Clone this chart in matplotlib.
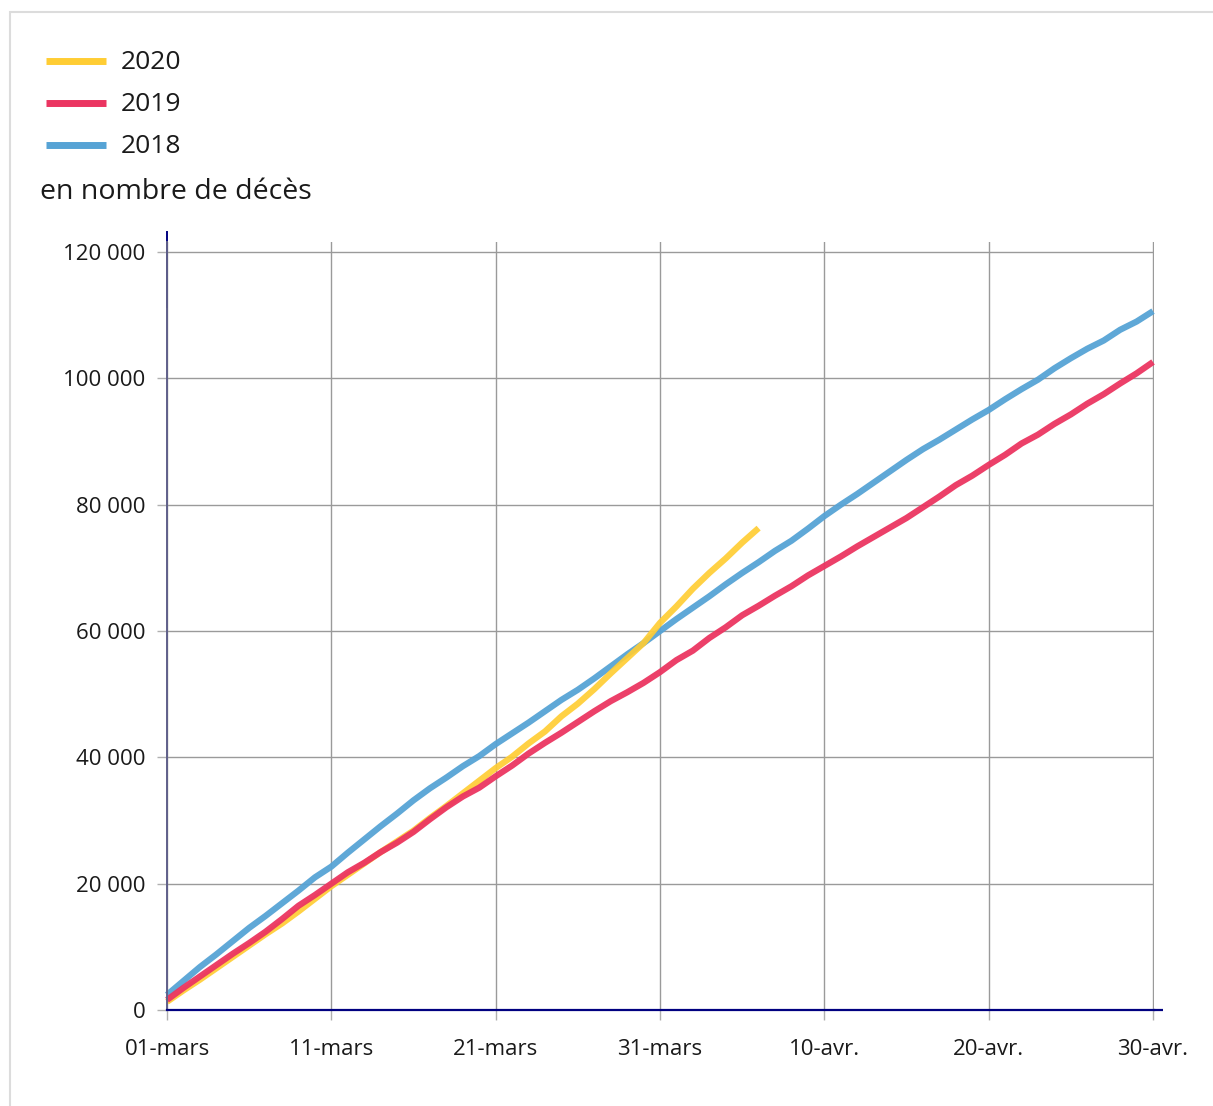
import matplotlib.pyplot as plt
from matplotlib.lines import Line2D
from matplotlib.patches import Rectangle
from matplotlib.ticker import FuncFormatter, MultipleLocator

plt.rcParams['font.family'] = ['Open Sans', 'DejaVu Sans']

# cumulative deaths since 1 March (day 0 = 01-mars, day 60 = 30-avr.)
deaths_2018 = [2400, 4600, 6800, 8800, 10900, 13000, 14900, 16900, 18900, 21000,
               22700, 24900, 27000, 29100, 31100, 33200, 35100, 36800, 38600, 40200,
               42100, 43800, 45500, 47300, 49100, 50700, 52500, 54400, 56300, 58100,
               60000, 61900, 63700, 65500, 67400, 69200, 70900, 72700, 74300, 76200,
               78200, 80000, 81700, 83500, 85300, 87100, 88800, 90300, 91900, 93500,
               95000, 96700, 98300, 99800, 101600, 103200, 104700, 106000, 107700, 109000,
               110650]
deaths_2019 = [1600, 3500, 5300, 7100, 8900, 10600, 12400, 14400, 16500, 18200,
               20000, 21800, 23300, 25000, 26500, 28200, 30200, 32100, 33800, 35200,
               37000, 38700, 40600, 42300, 43900, 45600, 47300, 48900, 50300, 51800,
               53500, 55400, 56900, 58900, 60600, 62500, 64000, 65600, 67100, 68800,
               70300, 71800, 73400, 74900, 76400, 77900, 79600, 81300, 83100, 84600,
               86300, 87900, 89700, 91100, 92800, 94300, 96000, 97500, 99200, 100800,
               102600]
deaths_2020 = [1300, 3100, 4800, 6600, 8400, 10200, 12000, 13700, 15600, 17600,
               19600, 21400, 23200, 25000, 26700, 28400, 30400, 32300, 34300, 36300,
               38300, 40100, 42200, 44100, 46500, 48500, 50800, 53300, 55700, 58100,
               61300, 63900, 66700, 69200, 71500, 74000, 76300]

tick_days = [0, 10, 20, 30, 40, 50, 60]
tick_labels = ['01-mars', '11-mars', '21-mars', '31-mars', '10-avr.', '20-avr.', '30-avr.']

c2020 = '#ffcd34'
c2019 = '#eb3561'
c2018 = '#56a3d5'

fig = plt.figure(figsize=(12.13, 11.06), dpi=100)
fig.add_artist(Rectangle((10 / 1213, -0.1), 1.2, 1 - 12 / 1106 + 0.1,
                         transform=fig.transFigure, fill=False,
                         edgecolor='#dcdcdc', linewidth=1.5))

ax = fig.add_axes([167 / 1213, 1 - 1010 / 1106, 987 / 1213, 768 / 1106])

ax.plot(range(len(deaths_2018)), deaths_2018, color=c2018, lw=4.5, alpha=0.95,
        solid_capstyle='butt', clip_on=False)
ax.plot(range(len(deaths_2020)), deaths_2020, color=c2020, lw=4.5, alpha=0.92,
        solid_capstyle='butt', clip_on=False)
ax.plot(range(len(deaths_2019)), deaths_2019, color=c2019, lw=4.5, alpha=0.95,
        solid_capstyle='butt', clip_on=False)

ax.set_xlim(0, 60.06)
ax.set_ylim(0, 121600)
ax.set_xticks(tick_days)
ax.set_xticklabels(tick_labels)
ax.yaxis.set_major_locator(MultipleLocator(20000))
ax.yaxis.set_major_formatter(FuncFormatter(lambda v, p: f'{int(v):,}'.replace(',', ' ')))

ax.grid(True, color='#9a9a9a', lw=1.0)
ax.set_axisbelow(True)
ax.tick_params(length=7.5, width=1.0, color='#b0b0b0', labelsize=16, labelcolor='#1a1a1a')
ax.tick_params(axis='x', pad=13.5)
ax.tick_params(axis='y', pad=8)

for s in ['top', 'right']:
    ax.spines[s].set_visible(False)
ax.spines['bottom'].set_color('#000080')
ax.spines['bottom'].set_linewidth(1.6)
ax.spines['bottom'].set_zorder(3)
ax.spines['left'].set_color('#60608a')
ax.spines['left'].set_linewidth(1.4)
# axis line overhangs
ax.plot([0, 0], [0.915, 1.013], transform=ax.transAxes, color='#000080',
        lw=1.4, clip_on=False)
ax.plot([1, 1.0095], [0, 0], transform=ax.transAxes, color='#000080',
        lw=1.6, clip_on=False, solid_capstyle='butt')

# legend drawn by hand at top left
legend_items = [('2020', c2020), ('2019', c2019), ('2018', c2018)]
for i, (lab, col) in enumerate(legend_items):
    yy = 1 - (61 + 42 * i) / 1106
    fig.add_artist(Line2D([46 / 1213, 106 / 1213], [yy, yy], color=col, lw=5,
                          solid_capstyle='butt'))
    fig.text(121 / 1213, yy - 1.5 / 1106, lab, fontsize=19, va='center', ha='left',
             color='#1a1a1a')

fig.text(40 / 1213, 1 - 192 / 1106, 'en nombre de décès', fontsize=20.5,
         va='center', ha='left', color='#1a1a1a')

fig.savefig('out.png', dpi=100)
